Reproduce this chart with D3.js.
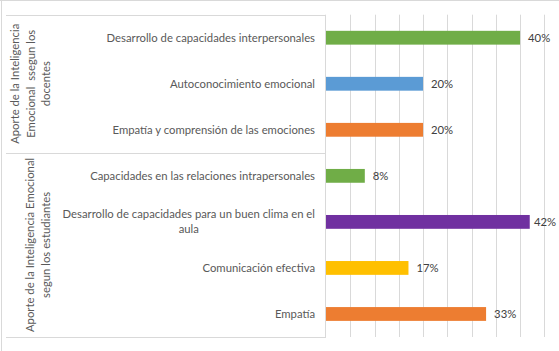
<!DOCTYPE html>
<html>
<head>
<meta charset="utf-8">
<script src="https://cdn.jsdelivr.net/npm/d3@7"></script>
<style>
  body { margin: 0; background: #fff; }
  text { font-family: Lato, "Liberation Sans", sans-serif; white-space: pre; }
</style>
</head>
<body>
<div id="chart"></div>
<script>
// categories, top to bottom
const categories = [
    'Desarrollo de capacidades interpersonales',
    'Autoconocimiento emocional',
    'Empatía y comprensión de las emociones',
    'Capacidades en las relaciones intrapersonales',
    'Desarrollo de capacidades para un buen clima en el aula',
    'Comunicación efectiva',
    'Empatía'
]
const values = [40, 20, 20, 8, 42, 17, 33]
const barColors = ['#70AD47', '#5B9BD5', '#ED7D31', '#70AD47', '#7030A0', '#FFC000', '#ED7D31']
const groups = [
    { lines: ['Aporte de la Inteligencia', 'Emocional  ssegun los', 'docentes'], from: 0, to: 2 },
    { lines: ['Aporte de la Inteligencia Emocional', 'segun los estudiantes'], from: 3, to: 6 }
]
const xTicks = [0, 5, 10, 15, 20, 25, 30, 35, 40, 45]

// set Dimension
const dim = { width: 559, height: 351 }
const plot = { left: 326, right: 544.3, top: 14.7, bottom: 337 }

const svg = d3.select('#chart')
    .append('svg')
    .attr('width', dim.width)
    .attr('height', dim.height)

// outer chart border (only top and left are visible)
svg.append('line')
    .attr('x1', 0).attr('x2', dim.width)
    .attr('y1', 0.5).attr('y2', 0.5)
    .attr('stroke', '#d9d9d9')
svg.append('line')
    .attr('x1', 1.5).attr('x2', 1.5)
    .attr('y1', 0).attr('y2', dim.height)
    .attr('stroke', '#d9d9d9')

// scales
const xScale = d3.scaleLinear()
    .domain([0, 45])
    .range([plot.left, plot.right])

const yScale = d3.scaleBand()
    .domain(categories)
    .range([plot.top, plot.bottom])
    .paddingInner(0.7)
    .paddingOuter(0.35)

// gridlines
svg.append('g')
    .selectAll('line')
    .data(xTicks.slice(1))
    .join('line')
    .attr('x1', d => Math.round(xScale(d)) + 0.5)
    .attr('x2', d => Math.round(xScale(d)) + 0.5)
    .attr('y1', plot.top)
    .attr('y2', plot.bottom)
    .attr('stroke', '#d9d9d9')

// category axis frame: vertical axis + group separators
const step = yScale.step()
const bandEdge = i => plot.top + i * step
svg.append('line')
    .attr('x1', plot.left - 0.5).attr('x2', plot.left - 0.5)
    .attr('y1', plot.top).attr('y2', plot.bottom)
    .attr('stroke', '#d9d9d9')

const sepY = [0].concat(groups.map(g => g.to + 1))
svg.append('g')
    .selectAll('line')
    .data(sepY)
    .join('line')
    .attr('x1', 6)
    .attr('x2', plot.left)
    .attr('y1', d => Math.round(bandEdge(d)) + 0.5)
    .attr('y2', d => Math.round(bandEdge(d)) + 0.5)
    .attr('stroke', '#d9d9d9')

// bars
svg.append('g')
    .selectAll('rect')
    .data(values)
    .join('rect')
    .attr('x', xScale(0))
    .attr('y', (d, i) => yScale(categories[i]))
    .attr('width', d => xScale(d) - xScale(0))
    .attr('height', yScale.bandwidth())
    .attr('fill', (d, i) => barColors[i])

// data labels
const fs = 11.3
svg.append('g')
    .selectAll('text')
    .data(values)
    .join('text')
    .attr('x', d => Math.min(xScale(d) + 8, 554 - 20))
    .attr('y', (d, i) => yScale(categories[i]) + yScale.bandwidth() / 2)
    .attr('dy', '0.35em')
    .attr('font-size', fs)
    .attr('fill', '#404040')
    .text(d => d + '%')

// category labels (wrapped one is centered under its first line)
const labelRight = plot.left - 11
const wraps = {
    'Desarrollo de capacidades para un buen clima en el aula':
        ['Desarrollo de capacidades para un buen clima en el', 'aula']
}
categories.forEach(c => {
    const cy = yScale(c) + yScale.bandwidth() / 2
    const lines = wraps[c] || [c]
    const t = svg.append('text')
        .attr('font-size', fs)
        .attr('fill', '#595959')
    if (lines.length === 1) {
        t.attr('x', labelRight).attr('y', cy).attr('dy', '0.35em')
            .attr('text-anchor', 'end').text(c)
    } else {
        t.attr('x', labelRight).attr('y', cy - 7.5).attr('dy', '0.35em')
            .attr('text-anchor', 'end').text(lines[0])
        const w = t.node().getComputedTextLength()
        svg.append('text')
            .attr('font-size', fs)
            .attr('fill', '#595959')
            .attr('x', labelRight - w / 2)
            .attr('y', cy + 7.5)
            .attr('dy', '0.35em')
            .attr('text-anchor', 'middle')
            .text(lines[1])
    }
})

// group labels, rotated
const lineH = 15.5
const groupX = [15.5, 30.5]
groups.forEach((g, gi) => {
    const cy = (bandEdge(g.from) + bandEdge(g.to + 1)) / 2
    const grp = svg.append('g')
    g.lines.forEach((l, li) => {
        const x = groupX[gi] + li * lineH
        grp.append('text')
            .attr('transform', `translate(${x}, ${cy}) rotate(-90)`)
            .attr('text-anchor', 'middle')
            .attr('dy', '0.35em')
            .attr('font-size', fs)
            .attr('fill', '#595959')
            .text(l)
    })
})
</script>
</body>
</html>
